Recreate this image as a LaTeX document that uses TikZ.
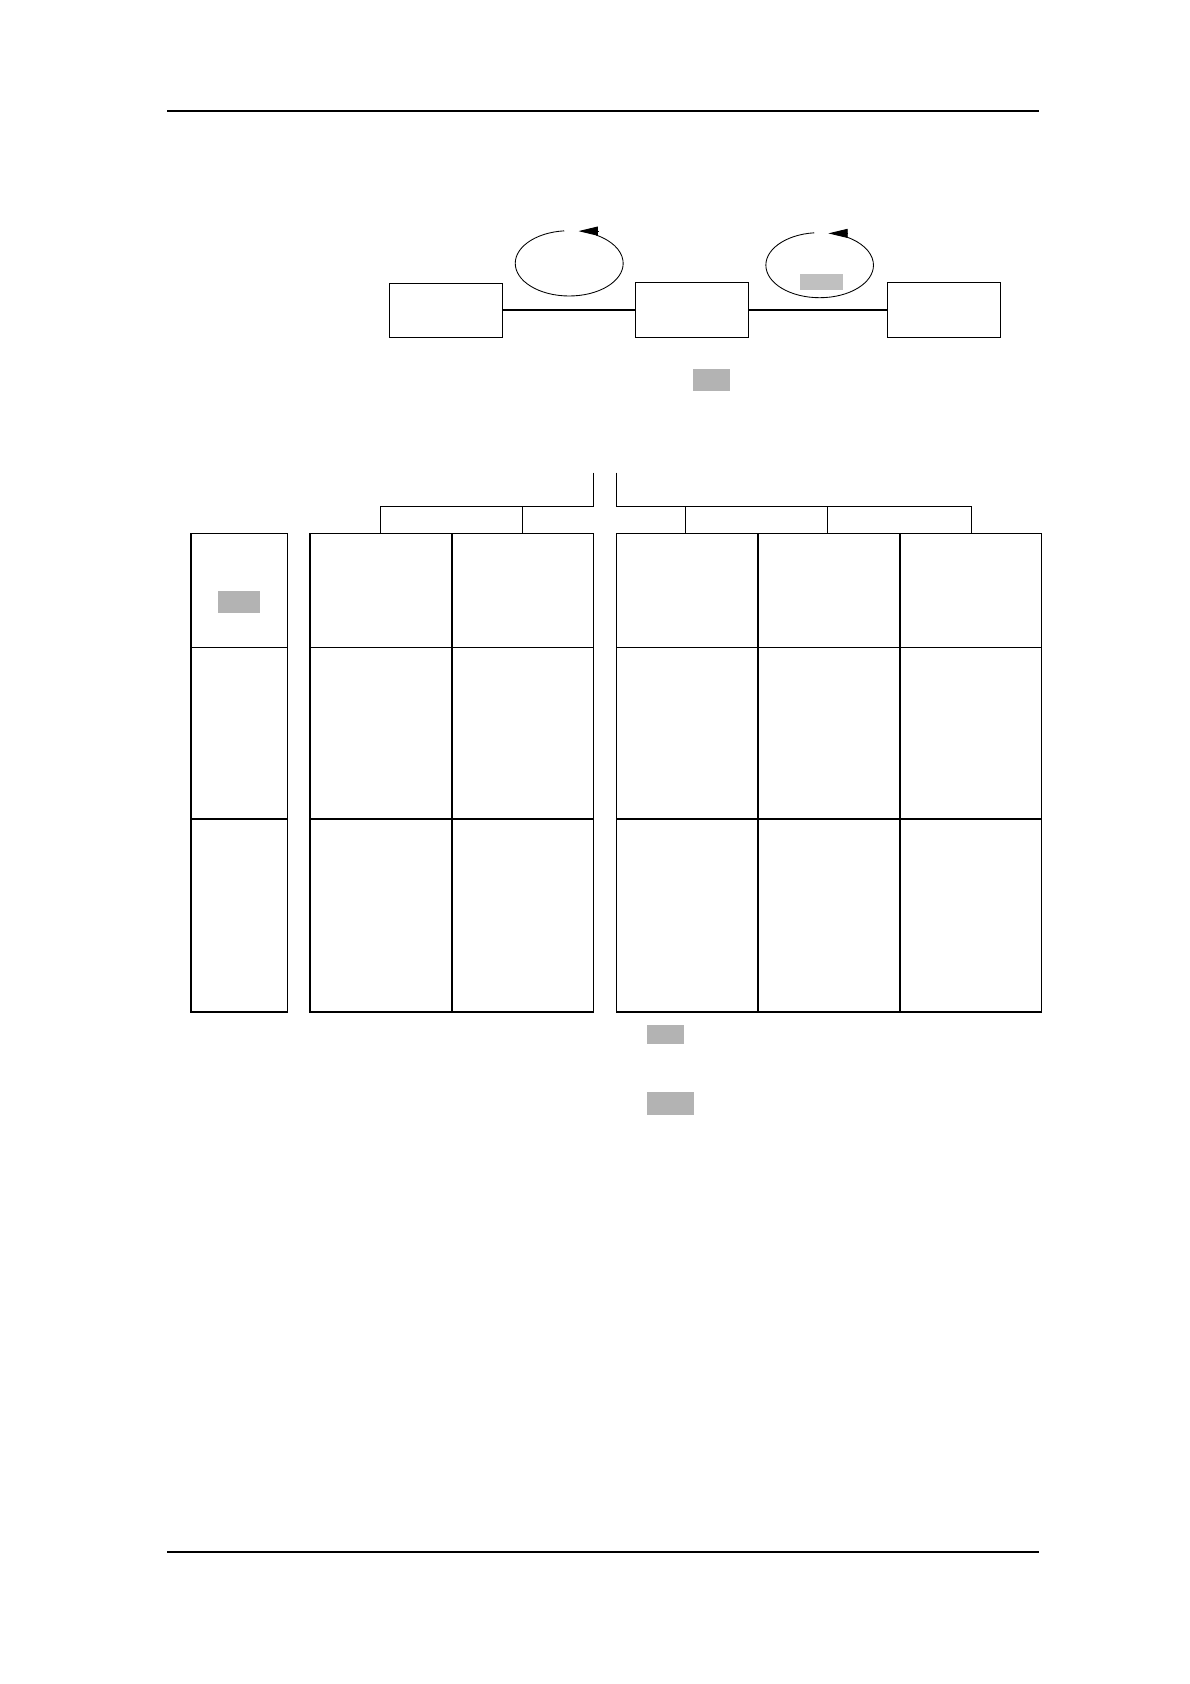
\documentclass[tikz,border=0pt]{standalone}
\usepackage{tikz}
\usetikzlibrary{arrows.meta}
\definecolor{maskgray}{RGB}{179,179,179}
\definecolor{lightmask}{RGB}{192,192,192}

\begin{document}
\begin{tikzpicture}[x=0.75pt,y=0.75pt,yscale=-1,xscale=1,
  pagerule/.style={line width=1.1pt},
  thinline/.style={line width=0.7pt},
  tabline/.style={line width=1pt},
  boldline/.style={line width=1.3pt},
  stagebox/.style={draw,line width=0.8pt,minimum width=79pt,minimum height=38pt,inner sep=0pt},
  linkline/.style={line width=1pt},
  loopline/.style={line width=0.6pt},
  looptip/.style={line width=0.6pt,-{Triangle[length=13.5pt,width=6.3pt]}},
  maskbox/.style={fill=maskgray,inner sep=0pt}]
\useasboundingbox (0,0) rectangle (1108,1568);

%Straight Lines (page rules)
\draw[pagerule] (155.5,103.5) -- (967,103.5);
\draw[pagerule] (155.5,1445) -- (967,1445);

%Shape: Rectangle
\node[stagebox] (boxA) at (415.25,289.2) {};
\node[stagebox] (boxB) at (644.65,288.55) {};
\node[stagebox] (boxC) at (879.25,288.55) {};
%Straight Lines
\draw[linkline] (boxA.east |- boxB) -- (boxB.west);
\draw[linkline] (boxB.east) -- (boxC.west);

%Shape: Arc
\coordinate (loopAB) at (530,245.2);
\coordinate (loopBC) at (763.2,246.9);
\draw[loopline] ([shift={(264.7:50.25 and 30.4)}]loopAB) arc[start angle=264.7,end angle=-60,x radius=50.25,y radius=30.4];
\draw[looptip] (556.7,215.2) -- (538.6,215.2);
\draw[loopline] ([shift={(264.2:50.1 and 30.3)}]loopBC) arc[start angle=264.2,end angle=-60,x radius=50.1,y radius=30.3];
\draw[looptip] (789.7,217.3) -- (771.3,217.3);

% Text Node
\node[maskbox,fill=lightmask,minimum width=29.9pt,minimum height=11pt] (maskLoop) at (764.7,262.5) {};
% Text Node
\node[maskbox,minimum width=25.7pt,minimum height=15.2pt] (maskTop) at (662.3,353.7) {};

%Straight Lines (header strip)
\draw[thinline] (552.5,440) -- (552.5,471.5) -- (354.2,471.5) -- (354.2,496.8);
\draw[thinline] (486.4,471.5) -- (486.4,496.8);
\draw[thinline] (574.1,440) -- (574.1,471.5) -- (904.7,471.5) -- (904.7,496.8);
\foreach \x in {638.1,770.6}
  \draw[thinline] (\x,471.5) -- (\x,496.8);

%Shape: Table
\foreach \xa/\xb in {177.8/267.5,288.6/552.5,574.1/969.5}{
  \draw[tabline] (\xa,496.8) rectangle (\xb,942.2);
  \draw[thinline] (\xa,602.8) -- (\xb,602.8);
  \draw[boldline] (\xa,762.6) -- (\xb,762.6);
}
\foreach \x in {420.5,705.4,837.6}
  \draw[boldline] (\x,496.8) -- (\x,942.2);

% Text Node
\node[maskbox,minimum width=29.3pt,minimum height=15.4pt] (maskRow) at (222.5,560.5) {};
% Text Node
\node[maskbox,minimum width=25.8pt,minimum height=13pt] (maskNoteA) at (619.3,963) {};
% Text Node
\node[maskbox,minimum width=32.6pt,minimum height=15.8pt] (maskNoteB) at (624.1,1027.3) {};

\end{tikzpicture}
\end{document}
